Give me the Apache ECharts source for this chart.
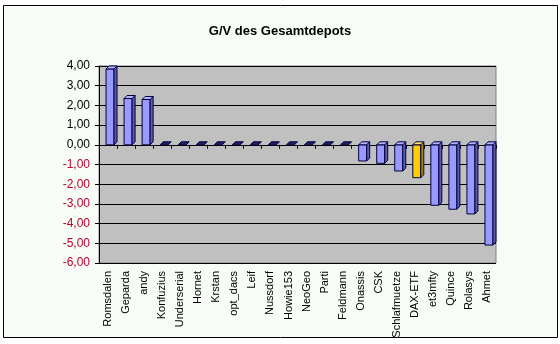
<!DOCTYPE html>
<html>
<head>
<meta charset="utf-8">
<script src="https://cdn.jsdelivr.net/npm/echarts@6/dist/echarts.min.js"></script>
<style>
html,body{margin:0;padding:0;background:#ffffff;}
#chart{width:560px;height:344px;}
</style>
</head>
<body>
<div id="chart"></div>
<script>
const title = 'G/V des Gesamtdepots';
const categories = ['Romsdalen','Geparda','andy','Konfuzius','Underserial','Hornet','Krstan','opt_dacs','Leif','Nussdorf','Howie153','NeoGeo','Parti','Feldmann','Onassis','CSK','Schlafmuetze','DAX-ETF','et3mfty','Quince','Rolasys','Ahmet'];
const values = [3.85, 2.35, 2.3, 0, 0, 0, 0, 0, 0, 0, 0, 0, 0, 0, -0.82, -0.94, -1.33, -1.67, -3.07, -3.27, -3.51, -5.09];
const highlighted = ['DAX-ETF'];
const yMin = -6, yMax = 4, yStep = 1;

const chart = echarts.init(document.getElementById('chart'), null, {renderer:'canvas'});
const fontFam = 'Arial, "Liberation Sans", sans-serif';

function renderBar(params, api) {
  const idx = api.value(0);
  const val = api.value(1);
  const pBase = api.coord([idx, 0]);
  const pVal = api.coord([idx, val]);
  const cx = pBase[0];
  const yTop = Math.min(pBase[1], pVal[1]);
  const yBot = Math.max(pBase[1], pVal[1]);
  const hl = highlighted.includes(categories[idx]);
  const front = hl ? '#FFCC00' : '#9999FF';
  const side = hl ? '#A88600' : '#5C5CA8';
  const top = hl ? '#FFE066' : '#B3B3FF';
  const stroke = '#000040';
  const x0 = cx - 2, x1 = cx + 6, dx = 3, dy = 3;
  const children = [];
  if (yBot - yTop > 0.5) {
    children.push({type: 'rect', shape: {x: x0, y: yTop, width: x1 - x0, height: yBot - yTop},
      style: {fill: front, stroke: stroke, lineWidth: 1}});
    children.push({type: 'polygon', shape: {points: [[x1, yTop], [x1 + dx, yTop - dy], [x1 + dx, yBot - dy], [x1, yBot]]},
      style: {fill: side, stroke: stroke, lineWidth: 1}});
  }
  children.push({type: 'polygon', shape: {points: [[x0, yTop], [x1, yTop], [x1 + dx, yTop - dy], [x0 + dx, yTop - dy]]},
    style: {fill: yBot - yTop > 0.5 ? top : '#202060', stroke: stroke, lineWidth: 1}});
  return {type: 'group', children: children};
}

chart.setOption({
  backgroundColor: '#ffffff',
  animation: false,
  graphic: [{
    type: 'rect', z: -100, silent: true,
    shape: {x: 3.5, y: 5.5, width: 554, height: 332},
    style: {fill: '#F7FCF7', stroke: '#000000', lineWidth: 1}
  }],
  title: {
    text: title, left: 'center', top: 20,
    textStyle: {fontFamily: fontFam, fontSize: 13, fontWeight: 'bold', color: '#000000'}
  },
  grid: {
    left: 99, right: 64, top: 66, bottom: 81,
    show: true, backgroundColor: '#C0C0C0', borderColor: '#808080', borderWidth: 1
  },
  xAxis: {
    type: 'category', data: categories,
    axisLine: {show: true, lineStyle: {color: '#000000'}},
    axisTick: {show: true, alignWithLabel: false, length: 4, lineStyle: {color: '#000000'}},
    axisLabel: {rotate: 90, interval: 0, margin: 8, fontFamily: fontFam, fontSize: 11, color: '#000000'}
  },
  yAxis: {
    type: 'value', min: yMin, max: yMax, interval: yStep,
    axisLine: {show: true, lineStyle: {color: '#000000'}},
    axisTick: {show: true, length: 4, lineStyle: {color: '#000000'}},
    splitLine: {show: true, lineStyle: {color: '#000000', width: 1}},
    axisLabel: {
      fontFamily: fontFam, fontSize: 12, margin: 9,
      formatter: v => v.toFixed(2).replace('.', ','),
      color: v => (Number(v) < 0 ? '#C0002A' : '#000000')
    }
  },
  series: [{
    type: 'custom',
    renderItem: renderBar,
    encode: {x: 0, y: 1},
    data: values.map((v, i) => [i, v])
  }]
});
</script>
</body>
</html>
